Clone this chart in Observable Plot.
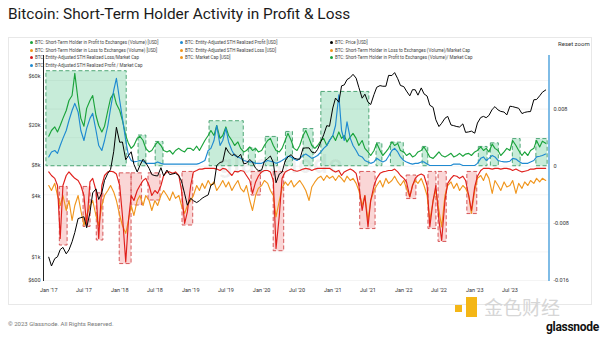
<!DOCTYPE html>
<html><head><meta charset="utf-8">
<script src="https://cdn.jsdelivr.net/npm/d3@7/dist/d3.min.js"></script>
<script src="https://cdn.jsdelivr.net/npm/@observablehq/plot@0.6/dist/plot.umd.min.js"></script>
<style>
body{margin:0;width:600px;height:337px;background:#fff;font-family:Roboto,"Liberation Sans",sans-serif;overflow:hidden;position:relative}
#title{position:absolute;left:8px;top:5px;font-size:15.4px;color:#1b1b1b;white-space:nowrap}
#card{position:absolute;left:8px;top:37px;width:584px;height:268px;border:1px solid #e8e8e8;box-sizing:border-box}
#legend{position:absolute;left:30px;top:39px;display:grid;grid-template-columns:150px 150px 200px;grid-template-rows:repeat(4,7.5px);font-size:4.5px;color:#444;z-index:3}
#legend div{display:flex;align-items:center;white-space:nowrap}
#legend span.dot{width:3px;height:3px;border-radius:50%;margin-right:2px;display:inline-block}
#reset{position:absolute;left:558px;top:40px;font-size:6px;color:#333}
.chart{position:absolute;left:0;top:0;width:600px;height:300px}
.chart svg{max-width:none !important}
#wm{position:absolute;left:218px;top:149px;font-size:26px;font-weight:bold;color:rgba(0,0,0,0.06);letter-spacing:0.5px}
#foot{position:absolute;left:8px;top:320px;font-size:6px;color:#777}
#gn{position:absolute;left:546px;top:320px;font-size:12px;font-weight:bold;color:#111;letter-spacing:-0.3px}
#js{position:absolute;left:484px;top:297px;font-size:19px;line-height:20px;color:#d6d6d6;font-family:"Noto Sans CJK SC",sans-serif}
.y1{position:absolute;left:455px;top:305px;width:7px;height:7px;background:#f4b616}
.y2{position:absolute;left:466px;top:297px;width:11px;height:20px;background:#f4b616}
#err{position:absolute;left:60px;top:100px;font-size:9px;color:red;z-index:9}
</style></head><body>
<div id="title">Bitcoin: Short-Term Holder Activity in Profit &amp; Loss</div>
<div id="card"></div>
<div id="reset">Reset zoom</div>
<div id="wm">glassnode</div>
<div id="c1" class="chart"></div>
<div id="c2" class="chart"></div>
<div id="legend"></div>
<div id="foot">© 2023 Glassnode. All Rights Reserved.</div>
<div class="y1"></div><div class="y2"></div>
<div id="js">金色财经</div>
<div id="gn">glassnode</div>
<div id="err"></div>
<script>
// Semi-monthly samples (1st and 15th), Jan 2017 .. Jan 2024
const price = [
1000,820,970,1010,1190,1250,1080,1180,1420,1750,2400,2450,2500,1950,2750,4300,4700,3700,4300,5700,6700,7300,10900,19000,
13500,13600,9100,10000,10900,8200,6900,8000,9200,8500,7500,6500,6350,6300,7600,6300,7200,6500,6600,6700,6350,5600,4200,3250,
3800,3600,3450,3600,3800,3950,4100,5100,5300,8000,8550,8700,12000,10800,10000,10300,9600,10300,8300,8400,9150,8600,7500,7100,
7200,8800,9350,9900,8550,5400,6600,6850,8850,9700,10200,9450,9230,9200,11800,11900,11900,10800,10600,11500,13700,16000,19700,19400,
29400,36800,33500,48500,49600,55800,58700,63000,57800,46800,36700,40200,33500,31800,39900,47000,48800,48100,48100,61500,61300,65500,57000,48900,
47700,43100,38700,44500,44400,39300,46300,40500,38500,31300,29800,22500,19300,20800,23300,24300,20000,19700,19300,19100,20500,16900,17100,17400,
16600,20900,23700,24300,23600,24800,28500,30300,28100,27200,26800,25100,30600,30300,29700,29200,25900,26600,27000,27100,35400,35600,38700,42000,44200];
// ratio series in units of 1e-4 of market cap
const sthProfitToExch = [
42,50,55,48,57,67,78,92,99,130,92,67,56,81,92,99,71,57,48,56,78,95,102,87,
78,64,43,32,25,29,39,42,36,25,20,22,29,34,29,22,20,22,17,22,25,22,20,25,
25,22,28,22,29,36,43,50,43,57,39,43,55,43,36,29,34,25,20,22,27,22,25,20,
22,29,36,39,29,22,20,25,36,46,36,25,22,29,43,50,39,29,25,29,36,39,29,36,
43,36,48,39,43,34,41,46,39,29,36,25,20,15,22,32,22,15,20,25,34,29,32,22,
20,15,18,13,15,20,22,27,20,13,11,15,20,15,13,15,18,13,15,18,14,17,18,15,
20,22,27,22,25,20,31,25,22,15,20,25,22,36,29,22,15,20,15,22,25,36,27,35,32];
const realizedProfit = [
13,20,22,18,29,39,50,64,78,88,76,50,36,53,67,74,50,29,22,36,57,81,106,123,
92,67,36,15,8,6,7,8,7,4,4,4,4,6,4,3,3,3,3,3,3,3,3,3,
3,3,3,4,6,8,22,25,36,57,29,36,53,34,22,15,13,11,8,7,6,6,4,4,
4,6,8,7,6,4,6,8,11,14,13,10,8,11,15,17,14,11,13,15,20,25,29,36,
43,57,100,50,36,62,39,29,22,15,13,8,6,4,6,11,8,6,8,14,22,25,20,13,
8,6,4,3,4,4,6,6,3,1,1,1,1,1,1,1,1,3,3,3,1,1,1,1,
1,4,11,13,8,11,15,13,8,7,6,6,7,11,10,7,4,4,4,6,8,13,14,15,17];
const realizedLoss = [
-8,-13,-17,-27,-101,-27,-13,-8,-13,-17,-20,-27,-41,-83,-22,-17,-34,-101,-27,-13,-8,-7,-8,-11,
-27,-69,-134,-76,-41,-48,-34,-27,-20,-17,-27,-41,-34,-38,-27,-13,-8,-8,-10,-8,-13,-34,-80,-64,
-27,-8,-6,-4,-4,-3,-3,-3,-3,-4,-6,-3,-4,-8,-13,-7,-8,-6,-7,-13,-20,-38,-22,-14,
-8,-6,-6,-8,-20,-115,-69,-17,-8,-6,-4,-6,-7,-6,-4,-3,-4,-6,-4,-3,-3,-3,-3,-3,
-6,-8,-6,-13,-8,-6,-4,-6,-10,-27,-62,-41,-85,-48,-27,-17,-10,-8,-7,-6,-6,-4,-8,-13,
-17,-22,-43,-27,-17,-13,-11,-13,-27,-85,-48,-27,-76,-104,-48,-24,-17,-13,-14,-17,-14,-20,-41,-62,
-29,-14,-6,-3,-3,-3,-4,-3,-3,-4,-3,-3,-4,-6,-4,-6,-8,-7,-6,-4,-4,-3,-3,-3,-3];
const sthLossToExch = [
-27,-34,-24,-41,-55,-41,-62,-48,-76,-55,-41,-62,-83,-69,-55,-48,-69,-83,-55,-41,-34,-27,-36,-48,
-69,-83,-94,-76,-55,-69,-48,-41,-55,-41,-48,-62,-48,-55,-41,-34,-41,-48,-36,-45,-41,-55,-66,-55,
-48,-41,-27,-34,-24,-31,-20,-27,-22,-34,-27,-20,-29,-22,-34,-27,-20,-31,-36,-27,-48,-62,-41,-31,
-27,-20,-24,-34,-41,-71,-48,-31,-22,-27,-20,-29,-24,-20,-27,-34,-48,-29,-22,-17,-14,-20,-13,-17,
-14,-20,-13,-17,-22,-14,-20,-17,-24,-34,-55,-41,-76,-48,-34,-27,-20,-29,-17,-24,-20,-14,-22,-27,
-20,-31,-43,-27,-20,-24,-17,-27,-41,-76,-48,-34,-62,-85,-41,-27,-22,-31,-24,-34,-27,-31,-41,-66,
-34,-17,-13,-20,-10,-17,-38,-20,-27,-34,-22,-29,-27,-20,-38,-24,-31,-22,-27,-20,-24,-17,-22,-17,-20];

// highlighted regimes
const gbStart = ["2016-12-20","2018-04-08","2018-07-05","2019-04-08","2019-10-27","2020-01-22","2020-05-05","2020-08-04","2020-11-03","2021-08-14","2021-10-27","2022-04-08","2023-01-22","2023-03-25","2023-07-16","2023-11-14"];
const gbEnd   = ["2018-02-06","2018-05-18","2018-08-14","2019-10-01","2019-12-02","2020-03-25","2020-06-10","2020-09-24","2021-07-08","2021-09-13","2022-01-01","2022-05-07","2023-03-08","2023-05-05","2023-08-25","2024-01-11"];
const gbTop   = [133,43,34,63,25,41,48,52,104,32,33,27,27,32,38,38];
const rbStart = ["2017-02-27","2017-06-29","2017-09-05","2018-01-01","2018-03-03","2018-05-29","2018-11-20","2019-11-10","2020-03-03","2021-05-22","2022-01-16","2022-05-08","2022-06-29","2022-11-24"];
const rbEnd   = ["2017-04-08","2017-08-04","2017-10-09","2018-03-03","2018-04-26","2018-07-30","2019-01-14","2019-12-28","2020-04-26","2021-08-09","2022-03-07","2022-06-18","2022-08-10","2023-01-14"];
const rbTop   = [-29,-29,-38,-10,-10,-10,-8,-8,-8,-8,-13,-8,-8,-8];
const rbBottom= [-111,-85,-104,-137,-55,-48,-83,-41,-119,-88,-46,-88,-106,-67];

const legendLabels = [
"BTC: Short-Term Holder in Profit to Exchanges (Volume) [USD]",
"BTC: Short-Term Holder in Loss to Exchanges (Volume) [USD]",
"BTC: Entity-Adjusted STH Realized Loss/Market Cap",
"BTC: Entity-Adjusted STH Realized Profit / Market Cap",
"BTC: Entity-Adjusted STH Realized Profit [USD]",
"BTC: Entity-Adjusted STH Realized Loss [USD]",
"BTC: Market Cap [USD]",
"BTC: Price [USD]",
"BTC: Short-Term Holder in Loss to Exchanges (Volume)/Market Cap",
"BTC: Short-Term Holder in Profit to Exchanges (Volume)/ Market Cap"];
const legendColors = ["#1aa33b","#f0961e","#d7191c","#1f8ad1","#1f8ad1","#f0961e","#f0961e","#000000","#f0961e","#1aa33b"];

const priceTicks = [600,1000,4000,8000,20000,60000];
const priceTickLabels = ["$600","$1k","$4k","$8k","$20k","$60k"];
const ratioTicks = [-0.016,-0.008,0,0.008];
const gridTicks = [-0.016,-0.012,-0.008,-0.004,0,0.004,0.008,0.012];
const xTickDates = ["2017-01-01","2017-07-01","2018-01-01","2018-07-01","2019-01-01","2019-07-01","2020-01-01","2020-07-01","2021-01-01","2021-07-01","2022-01-01","2022-07-01","2023-01-01","2023-07-01"];

try {
const lg = document.getElementById("legend");
legendLabels.forEach((t,i)=>{
  const d = document.createElement("div");
  const col = i<4?1:(i<7?2:3), row = i<4?i+1:(i<7?i-3:i-6);
  d.style.gridColumn = col; d.style.gridRow = row;
  d.innerHTML = `<span class="dot" style="background:${legendColors[i]}"></span>${t}`;
  lg.appendChild(d);
});

const dates = price.map((_,i)=>new Date(Date.UTC(2017+Math.floor(i/24), Math.floor(i/2)%12, i%2?15:1)));
const rows = dates.map((d,i)=>({date:d, price:price[i], green:sthProfitToExch[i]/1e4, blue:realizedProfit[i]/1e4, red:realizedLoss[i]/1e4, orange:sthLossToExch[i]/1e4}));
const gBoxes = gbStart.map((s,i)=>({s:new Date(s), e:new Date(gbEnd[i]), y1:0, top:gbTop[i]/1e4}));
const rBoxes = rbStart.map((s,i)=>({s:new Date(s), e:new Date(rbEnd[i]), top:rbTop[i]/1e4, bot:rbBottom[i]/1e4}));
const pTicks = priceTicks.map((v,i)=>({v, label:priceTickLabels[i]}));

const xDom = [new Date(Date.UTC(2016,11,5)), new Date(Date.UTC(2024,0,18))];
const common = {width:600, height:300, marginTop:55, marginBottom:19, marginLeft:43, marginRight:51.5};
const style = {background:"transparent", fontSize:"5.5px", fontFamily:"Roboto, sans-serif", color:"#333", overflow:"visible", maxWidth:"none"};

const p1 = Plot.plot({...common, style,
  x:{type:"utc", domain:xDom, axis:null},
  y:{domain:[-0.01614,0.0155], axis:"right", ticks:ratioTicks, tickSize:0, tickPadding:4.5, label:null, tickFormat:d=>d===0?"0":String(d)},
  marks:[
    Plot.ruleY(gridTicks,{stroke:"#ececec", strokeWidth:0.6}),
    Plot.rect(gBoxes,{x1:"s", x2:"e", y1:"y1", y2:"top", fill:"#52c48a", fillOpacity:0.32, stroke:"#3f9e6a", strokeWidth:0.9, strokeDasharray:"4,2.5"}),
    Plot.rect(rBoxes,{x1:"s", x2:"e", y1:"top", y2:"bot", fill:"#f08080", fillOpacity:0.32, stroke:"#d2474a", strokeWidth:0.9, strokeDasharray:"4,2.5"}),
    Plot.line(rows,{x:"date", y:"orange", stroke:"#f0961e", strokeWidth:1.15}),
    Plot.line(rows,{x:"date", y:"red", stroke:"#e0201c", strokeWidth:1.15}),
    Plot.line(rows,{x:"date", y:"green", stroke:"#1aa33b", strokeWidth:1.15}),
    Plot.line(rows,{x:"date", y:"blue", stroke:"#1f8ad1", strokeWidth:1.15}),
    Plot.ruleX([xDom[1]],{stroke:"#2a8fd6", strokeWidth:1.2})
  ]});
document.getElementById("c1").appendChild(p1);

const p2 = Plot.plot({...common, style,
  x:{type:"utc", domain:xDom, ticks:xTickDates.map(s=>new Date(s)), tickFormat:d3.utcFormat("%b '%y"), tickSize:0, tickPadding:7, label:null},
  y:{type:"log", domain:[577,96500], axis:null},
  marks:[
    Plot.line(rows,{x:"date", y:"price", stroke:"#000", strokeWidth:1}),
    Plot.ruleX([xDom[0]],{stroke:"#222", strokeWidth:1}),
    Plot.text(pTicks,{y:"v", text:"label", frameAnchor:"left", dx:-3, textAnchor:"end", fill:"#333", fontSize:5.5})
  ]});
document.getElementById("c2").appendChild(p2);
} catch(e) { document.getElementById("err").textContent = "ERR: " + e.message + " | Plot=" + typeof Plot + " d3=" + typeof d3; }
</script>
</body></html>
